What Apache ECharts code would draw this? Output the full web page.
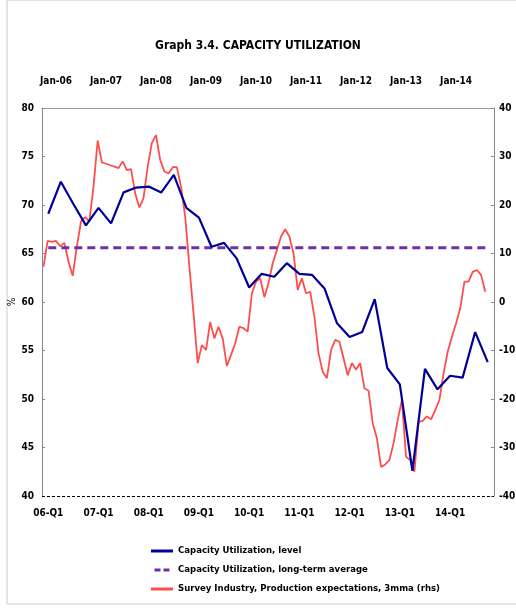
<!DOCTYPE html>
<html>
<head>
<meta charset="utf-8">
<script src="https://cdn.jsdelivr.net/npm/echarts@6/dist/echarts.min.js"></script>
<style>
  html, body { margin: 0; padding: 0; background: #fff; }
  #chart { width: 516px; height: 608px; }
</style>
</head>
<body>
<div id="chart"></div>
<script>
// quarterly categories 06-Q1 .. 14-Q4
const quarters = [];
for (let y = 6; y <= 14; y++) {
  for (let q = 1; q <= 4; q++) quarters.push((y < 10 ? '0' + y : '' + y) + '-Q' + q);
}
const capacityLevel = [
  69.1, 72.4, 70.1, 67.9, 69.7, 68.1, 71.3, 71.8,
  71.9, 71.3, 73.1, 69.7, 68.7, 65.7, 66.1, 64.5,
  61.5, 62.9, 62.6, 64.0, 62.9, 62.8, 61.4, 57.8,
  56.4, 56.9, 60.3, 53.2, 51.5, 42.6, 53.1, 51.0,
  52.4, 52.2, 56.9, 53.8
];
const longTermAverage = 65.6;
// monthly survey, 3mma (rhs), from Oct-05; month index 0 = Jan-06
const surveyStartMonth = -3;
const surveyExpectations = [
  7.3, 12.6, 12.4, 12.6, 11.5, 12.2, 8.3, 5.4, 11.4, 16.6, 17.5, 16.6, 23.8, 33.3,
  28.8, 28.5, 28.2, 27.9, 27.6, 29.0, 27.2, 27.4, 22.4, 19.5, 21.4, 27.9, 32.8, 34.4,
  29.3, 26.9, 26.5, 27.8, 27.8, 23.8, 17.6, 7.3, -2.3, -12.6, -8.9, -9.9, -4.1, -7.5,
  -5.1, -7.5, -13.2, -10.9, -8.5, -5.1, -5.4, -6.1,
  1.8, 4.2, 4.9, 1.0, 3.9, 8.0, 10.7, 13.5, 15.0, 13.5, 10.0, 2.5, 4.9, 1.8, 2.1,
  -3.0, -10.6, -14.4, -15.7, -9.9, -7.8, -8.2, -11.6, -15.1, -12.6, -13.9, -12.6,
  -17.8, -18.3, -25.0, -28.1, -34.0, -33.5, -32.6, -29.1, -24.3, -20.2, -31.9, -32.6,
  -35.0, -24.7, -24.5, -23.6, -24.2, -22.3, -20.2, -14.7, -10.2, -7.2, -4.4, -1.3,
  4.2, 4.2, 6.2, 6.6, 5.6, 2.1
];
const topTickMonths = [0, 12, 24, 36, 48, 60, 72, 84, 96];
const topTickLabels = ['Jan-06', 'Jan-07', 'Jan-08', 'Jan-09', 'Jan-10', 'Jan-11', 'Jan-12', 'Jan-13', 'Jan-14'];

const FONT = "'DejaVu Sans Condensed', 'Liberation Sans', sans-serif";
const labelStyle = { fontFamily: FONT, fontWeight: 'bold', fontSize: 10, color: '#000' };

const chart = echarts.init(document.getElementById('chart'));

const option = {
  animation: false,
  title: {
    text: 'Graph 3.4. CAPACITY UTILIZATION',
    left: 'center', top: 35,
    textStyle: { fontFamily: FONT, fontWeight: 'bold', fontSize: 12, color: '#000' }
  },
  grid: { left: 42, right: 22, top: 108, bottom: 112, outerBoundsMode: 'none' },
  legend: {
    orient: 'vertical', left: 146, top: 541, itemGap: 9,
    itemWidth: 22, itemHeight: 3,
    textStyle: { fontFamily: FONT, fontWeight: 'bold', fontSize: 9.5, color: '#000' },
    data: [
      { name: 'Capacity Utilization, level', icon: 'rect' },
      { name: 'Capacity Utilization, long-term average', icon: 'path://M0,0h8v4h-8zM12,0h8v4h-8z' },
      { name: 'Survey Industry, Production expectations, 3mma (rhs)', icon: 'rect' }
    ]
  },
  xAxis: [
    {
      type: 'category', data: quarters, position: 'bottom',
      axisLine: { show: false }, axisTick: { show: false },
      axisLabel: Object.assign({ interval: 3, margin: 12 }, labelStyle)
    },
    {
      type: 'value', position: 'top', min: -3.36, max: 105.1,
      axisLine: { onZero: false, lineStyle: { color: '#999' } },
      axisTick: { show: false },
      splitLine: { show: false },
      axisLabel: Object.assign({
        margin: 22,
        customValues: topTickMonths,
        formatter: v => topTickLabels[topTickMonths.indexOf(v)] || ''
      }, labelStyle)
    }
  ],
  yAxis: [
    {
      type: 'value', min: 40, max: 80, interval: 5,
      axisLine: { show: true, onZero: false, lineStyle: { color: '#888' } },
      axisTick: { show: true, inside: true, length: 3, lineStyle: { color: '#888' } },
      splitLine: { show: false },
      axisLabel: Object.assign({ margin: 8 }, labelStyle)
    },
    {
      type: 'value', min: -40, max: 40, interval: 10, position: 'right',
      axisLine: { show: true, onZero: false, lineStyle: { color: '#888' } },
      axisTick: { show: true, inside: true, length: 3, lineStyle: { color: '#888' } },
      splitLine: { show: false },
      axisLabel: Object.assign({ margin: 5 }, labelStyle)
    }
  ],
  series: [
    {
      name: 'Capacity Utilization, level', type: 'line',
      xAxisIndex: 0, yAxisIndex: 0, data: capacityLevel,
      symbol: 'none', lineStyle: { color: '#000099', width: 2.2 }, itemStyle: { color: '#000099' },
      markLine: {
        silent: true, symbol: 'none', label: { show: false },
        lineStyle: { color: '#000', type: [3, 2], width: 1.2 },
        data: [{ yAxis: 40 }]
      },
      z: 3
    },
    {
      name: 'Capacity Utilization, long-term average', type: 'line',
      xAxisIndex: 0, yAxisIndex: 0,
      data: quarters.map(() => longTermAverage),
      symbol: 'none', lineStyle: { color: '#7030A0', width: 3, type: [8, 5] },
      itemStyle: { color: '#7030A0' }, z: 2
    },
    {
      name: 'Survey Industry, Production expectations, 3mma (rhs)', type: 'line',
      xAxisIndex: 1, yAxisIndex: 1,
      data: surveyExpectations.map((v, i) => [surveyStartMonth + i, v]),
      symbol: 'none', lineStyle: { color: '#FF4D4D', width: 1.8 }, itemStyle: { color: '#FF4D4D' },
      z: 1
    }
  ],
  graphic: [
    {
      type: 'rect', shape: { x: 7, y: 0, width: 520, height: 604 },
      style: { fill: 'none', stroke: '#ccc', lineWidth: 1 }, silent: true
    },
    {
      type: 'text', x: 12, y: 302, rotation: Math.PI / 2,
      style: { text: '%', fill: '#000', font: '10px ' + FONT, align: 'center', verticalAlign: 'middle' }
    }
  ]
};

chart.setOption(option);
</script>
</body>
</html>
